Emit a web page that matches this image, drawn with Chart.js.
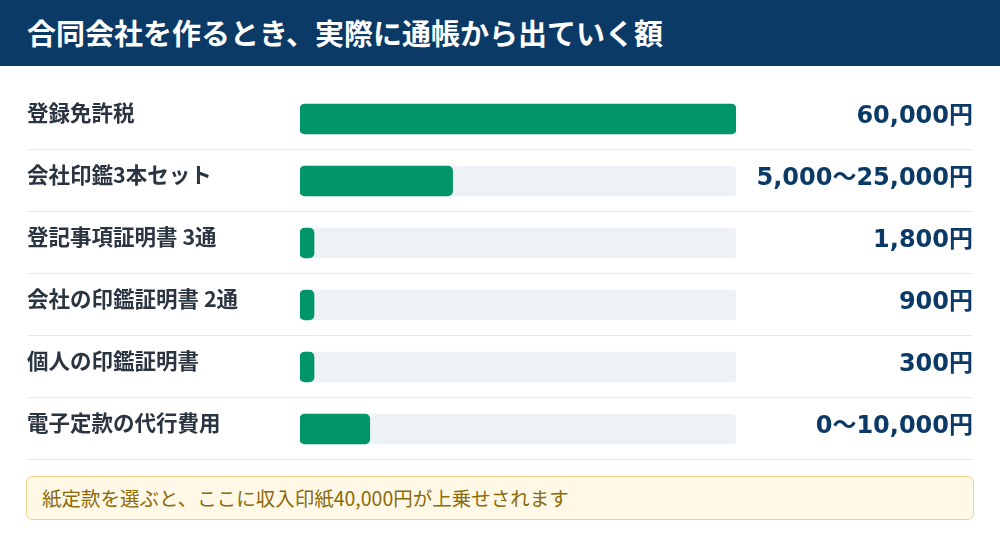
<!DOCTYPE html>
<html lang="ja">
<head>
    <meta charset="UTF-8">
    <script src="https://cdn.jsdelivr.net/npm/chart.js"></script>
    <title>合同会社を作るとき、実際に通帳から出ていく額</title>
    <style>
        body {
            margin: 0;
            width: 1000px;
            height: 548px;
            background: #ffffff;
            font-family: 'Noto Sans CJK JP', sans-serif;
            position: relative;
            overflow: hidden;
        }

        .header {
            height: 66px;
            background-color: #0b3a66;
            color: #ffffff;
            font-size: 29px;
            font-weight: 700;
            line-height: 64px;
            padding-left: 27px;
        }

        .chart-wrap {
            position: absolute;
            left: 0;
            top: 88px;
            width: 1000px;
            height: 374px;
        }

        .note {
            position: absolute;
            left: 26px;
            top: 476px;
            width: 948px;
            height: 44px;
            box-sizing: border-box;
            background: #fff8e6;
            border: 1px solid #f0d68c;
            border-radius: 6px;
            color: #8a6a0a;
            font-size: 19.5px;
            line-height: 42px;
            padding-left: 15px;
        }
    </style>
</head>
<body>
    <div class="header">合同会社を作るとき、実際に通帳から出ていく額</div>

    <div class="chart-wrap">
        <canvas id="costChart"></canvas>
    </div>

    <div class="note">紙定款を選ぶと、ここに収入印紙40,000円が上乗せされます</div>

    <script>
        // data
        const categories = ['登録免許税', '会社印鑑3本セット', '登記事項証明書 3通', '会社の印鑑証明書 2通', '個人の印鑑証明書', '電子定款の代行費用'];
        const costValues = [60000, 21000, 1800, 900, 300, 9600];
        const trackValues = [60000, 60000, 60000, 60000, 60000, 60000];
        const amountLabels = ['60,000円', '5,000〜25,000円', '1,800円', '900円', '300円', '0〜10,000円'];

        // thin lines under every row, across the whole width
        const rowLines = {
            id: 'rowLines',
            beforeDatasetsDraw(chart) {
                const ctx = chart.ctx;
                const y = chart.scales.y;
                const half = (y.getPixelForValue(1) - y.getPixelForValue(0)) / 2;
                ctx.save();
                ctx.strokeStyle = '#e6ebf1';
                ctx.lineWidth = 1;
                for (let i = 0; i < categories.length; i++) {
                    const py = Math.round(y.getPixelForValue(i) + half) - 0.5;
                    ctx.beginPath();
                    ctx.moveTo(27, py);
                    ctx.lineTo(973, py);
                    ctx.stroke();
                }
                ctx.restore();
            }
        };

        // the row labels sit inside their bands, so no extra room above/below
        function fitSide(width) {
            return function (scale) {
                scale.width = width;
                scale.paddingTop = 0;
                scale.paddingBottom = 0;
            };
        }

        new Chart(document.getElementById('costChart'), {
            type: 'bar',
            data: {
                labels: categories,
                datasets: [{
                    data: costValues,
                    backgroundColor: '#00966a',
                    borderRadius: 5,
                    borderSkipped: false,
                    barThickness: 30,
                    minBarLength: 14,
                    grouped: false,
                    order: 1
                }, {
                    data: trackValues,
                    backgroundColor: '#edf2f6',
                    borderRadius: 4,
                    borderSkipped: false,
                    barThickness: 30,
                    grouped: false,
                    order: 2
                }]
            },
            options: {
                indexAxis: 'y',
                responsive: true,
                maintainAspectRatio: false,
                animation: false,
                layout: {
                    padding: { left: 27, right: 27, top: 0, bottom: 2 }
                },
                plugins: {
                    legend: { display: false },
                    tooltip: { enabled: false }
                },
                scales: {
                    x: {
                        display: false,
                        min: 0,
                        max: 60000
                    },
                    y: {
                        position: 'left',
                        grid: { display: false },
                        border: { display: false },
                        afterFit: fitSide(273),
                        ticks: {
                            crossAlign: 'far',
                            padding: 0,
                            labelOffset: -6,
                            color: '#2b3541',
                            font: { family: "'Noto Sans CJK JP', sans-serif", size: 21.5, weight: 700 }
                        }
                    },
                    y2: {
                        type: 'category',
                        position: 'right',
                        labels: amountLabels,
                        offset: true,
                        grid: { display: false },
                        border: { display: false },
                        afterFit: fitSide(237),
                        ticks: {
                            crossAlign: 'far',
                            padding: 0,
                            labelOffset: -2,
                            color: '#0b3a66',
                            font: { family: "'DejaVu Sans', 'Noto Sans CJK JP', sans-serif", size: 24, weight: 700 }
                        }
                    }
                }
            },
            plugins: [rowLines]
        });
    </script>
</body>
</html>
